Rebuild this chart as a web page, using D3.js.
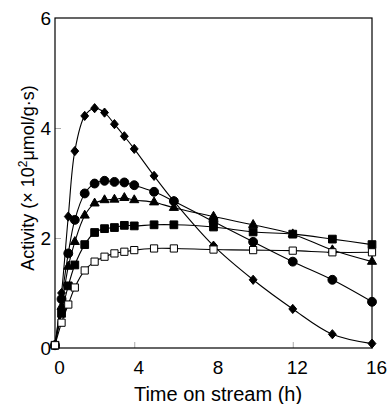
<!DOCTYPE html>
<html>
<head>
<meta charset="utf-8">
<script src="https://cdn.jsdelivr.net/npm/d3@7"></script>
<style>
  body { margin: 0; background: #fff; }
  svg { display: block; font-family: "Liberation Sans", Arial, sans-serif; }
</style>
</head>
<body>
<svg id="chart" width="390" height="404"></svg>
<script>
// time on stream (h)
const hours = [0, 0.33, 0.67, 1, 1.5, 2, 2.5, 3, 3.5, 4, 5, 6, 8, 10, 12, 14, 16];

// activity, x10^2 umol/(g s)
const diamondVals  = [0.05, 1.00, 2.39, 3.58, 4.22, 4.36, 4.28, 4.07, 3.85, 3.62, 3.13, 2.67, 1.86, 1.24, 0.71, 0.25, 0.08];
const circleVals   = [0.05, 0.89, 1.72, 2.33, 2.81, 2.99, 3.04, 3.02, 3.01, 2.96, 2.84, 2.67, 2.30, 1.93, 1.57, 1.24, 0.84];
const triangleVals = [0.05, 0.75, 1.48, 1.93, 2.41, 2.63, 2.69, 2.70, 2.73, 2.69, 2.65, 2.55, 2.39, 2.24, 2.07, 1.78, 1.57];
const squareVals   = [0.05, 0.63, 1.13, 1.51, 1.88, 2.10, 2.17, 2.19, 2.23, 2.22, 2.24, 2.24, 2.20, 2.11, 2.07, 1.98, 1.88];
const openSqVals   = [0.05, 0.46, 0.79, 1.10, 1.41, 1.57, 1.66, 1.72, 1.75, 1.78, 1.81, 1.81, 1.79, 1.78, 1.77, 1.74, 1.74];

const xTickLabels = [0, 4, 8, 12, 16];
const yTickLabels = [0, 2, 4, 6];

const svg = d3.select("#chart");
const margin = { left: 55, top: 18, right: 18, bottom: 56 };
const width = 390 - margin.left - margin.right;
const height = 404 - margin.top - margin.bottom;

const g = svg.append("g")
  .attr("transform", "translate(" + margin.left + "," + margin.top + ")");

const x = d3.scaleLinear().domain([0, 16]).range([0, width]);
const y = d3.scaleLinear().domain([0, 6]).range([height, 0]);

// small grey inner ticks
g.append("g")
  .attr("transform", "translate(0," + height + ")")
  .call(d3.axisTop(x).tickValues([4, 12]).tickSize(6).tickFormat(""))
  .call(a => a.select(".domain").remove())
  .selectAll("line").attr("stroke", "#aaa");

g.append("g")
  .call(d3.axisRight(y).tickValues([2, 4]).tickSize(6).tickFormat(""))
  .call(a => a.select(".domain").remove())
  .selectAll("line").attr("stroke", "#aaa");

// tick labels
g.append("g")
  .attr("transform", "translate(0," + height + ")")
  .call(d3.axisBottom(x).tickValues(xTickLabels).tickFormat(d3.format("d")).tickSize(0).tickPadding(13))
  .call(a => a.select(".domain").remove())
  .selectAll("text")
  .attr("dx", 4)
  .attr("font-size", 19)
  .attr("font-family", "Liberation Sans, Arial, sans-serif")
  .attr("fill", "#000");

g.append("g")
  .call(d3.axisLeft(y).tickValues(yTickLabels).tickFormat(d3.format("d")).tickSize(0).tickPadding(4))
  .call(a => a.select(".domain").remove())
  .selectAll("text")
  .attr("font-size", 19)
  .attr("font-family", "Liberation Sans, Arial, sans-serif")
  .attr("fill", "#000");

// frame
g.append("rect")
  .attr("width", width)
  .attr("height", height)
  .attr("fill", "none")
  .attr("stroke", "#000")
  .attr("stroke-width", 1.2);

// axis titles
svg.append("text")
  .attr("x", 218)
  .attr("y", 401)
  .attr("text-anchor", "middle")
  .attr("font-size", 20)
  .text("Time on stream (h)");

const yt = svg.append("text")
  .attr("transform", "translate(34,178) rotate(-90)")
  .attr("text-anchor", "middle")
  .attr("font-size", 18);
yt.append("tspan").text("Activity (\u00d7 10");
yt.append("tspan").attr("dy", -7).attr("font-size", 12).text("2");
yt.append("tspan").attr("dy", 7).text("\u03bcmol/g\u00b7s)");

// custom wide diamond
const wideDiamond = {
  draw(ctx, size) {
    const h = Math.sqrt(size) * 0.62, w = h * 0.85;
    ctx.moveTo(0, -h); ctx.lineTo(w, 0); ctx.lineTo(0, h); ctx.lineTo(-w, 0); ctx.closePath();
  }
};

const series = [
  { vals: diamondVals,  symbol: wideDiamond,        size: 55, fill: "#000" },
  { vals: circleVals,   symbol: d3.symbolCircle,    size: 62, fill: "#000" },
  { vals: triangleVals, symbol: d3.symbolTriangle,  size: 36, fill: "#000" },
  { vals: squareVals,   symbol: d3.symbolSquare,    size: 60, fill: "#000" },
  { vals: openSqVals,   symbol: d3.symbolSquare,    size: 52, fill: "#fff" }
];

const line = d3.line()
  .x((d, i) => x(hours[i]))
  .y(d => y(d))
  .curve(d3.curveCatmullRom.alpha(0.5));

series.forEach(s => {
  g.append("path")
    .datum(s.vals)
    .attr("d", line)
    .attr("fill", "none")
    .attr("stroke", "#000")
    .attr("stroke-width", 1.1);
});

series.forEach(s => {
  g.selectAll(null)
    .data(s.vals)
    .enter()
    .append("path")
    .attr("transform", (d, i) => "translate(" + x(hours[i]) + "," + y(d) + ")")
    .attr("d", d3.symbol().type(s.symbol).size(s.size))
    .attr("fill", s.fill)
    .attr("stroke", "#000")
    .attr("stroke-width", 1);
});
</script>
</body>
</html>
